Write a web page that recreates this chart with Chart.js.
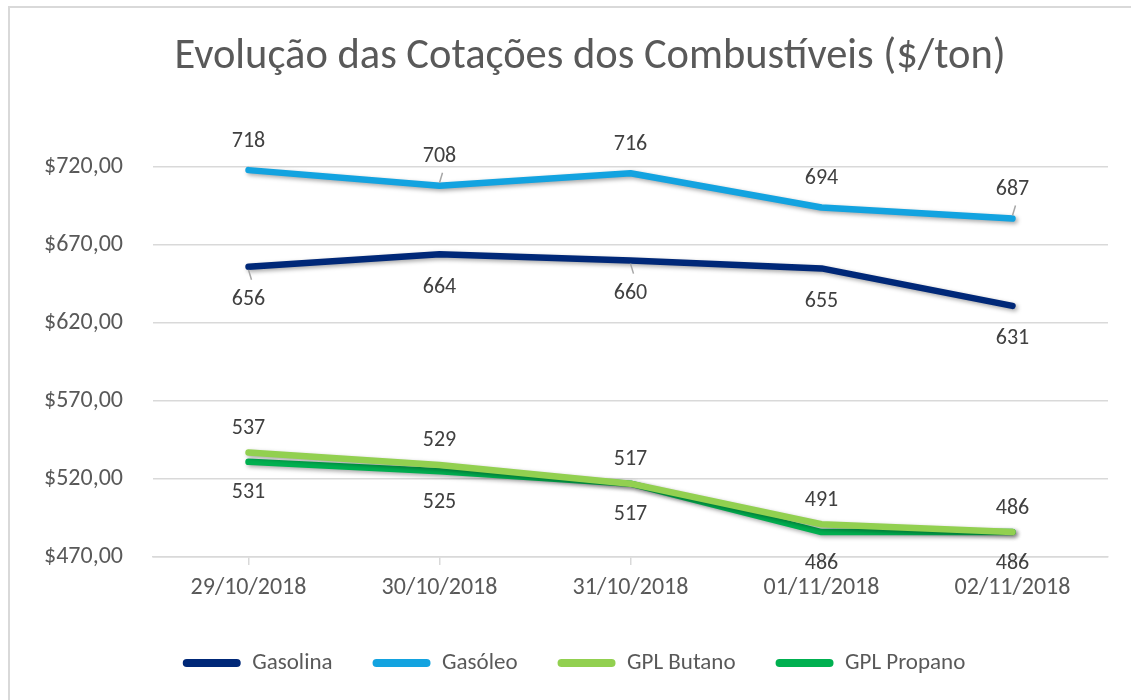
<!DOCTYPE html>
<html>
<head>
<meta charset="utf-8">
<script src="https://cdn.jsdelivr.net/npm/chart.js@4.4.1/dist/chart.umd.min.js"></script>
<style>
  html, body { margin: 0; padding: 0; background: #fff; }
  body { width: 1131px; height: 700px; overflow: hidden; position: relative; }
  .frame {
    position: absolute; left: 8px; top: 6px; width: 1130px; height: 700px;
    border-left: 2px solid #d9d9d9; border-top: 2px solid #d9d9d9; background: #fff;
  }
  .wrap { position: absolute; left: 10px; top: 8px; width: 1121px; height: 692px; }
</style>
</head>
<body>
<div class="frame"></div>
<div class="wrap"><canvas id="chart"></canvas></div>
<script>
const dates = ['29/10/2018', '30/10/2018', '31/10/2018', '01/11/2018', '02/11/2018'];
const gasolina = [656, 664, 660, 655, 631];
const gasoleo = [718, 708, 716, 694, 687];
const gplButano = [537, 529, 517, 491, 486];
const gplPropano = [531, 525, 517, 486, 486];

const FONT = "Carlito, Lato, 'Open Sans', sans-serif";
const TEXT = '#595959';

// value labels above / below each line, like the Excel data labels
const valueLabels = {
    id: 'valueLabels',
    afterDatasetsDraw(chart, args, opts) {
        const ctx = chart.ctx;
        ctx.save();
        // short gray leader lines where Excel moved the label a bit
        ctx.strokeStyle = '#a6a6a6';
        ctx.lineWidth = 1.5;
        opts.leaders.forEach(([di, pi]) => {
            const pt = chart.getDatasetMeta(di).data[pi];
            const dir = Math.sign(opts.offsets[di]);
            ctx.beginPath();
            ctx.moveTo(pt.x, pt.y + dir * 3);
            ctx.lineTo(pt.x + 3, pt.y + dir * 13);
            ctx.stroke();
        });
        ctx.font = '22px ' + FONT;
        ctx.fillStyle = '#404040';
        ctx.textAlign = 'center';
        ctx.textBaseline = 'middle';
        chart.data.datasets.forEach((ds, i) => {
            const meta = chart.getDatasetMeta(i);
            const off = opts.offsets[i];
            meta.data.forEach((pt, j) => {
                ctx.fillText(ds.data[j], pt.x, pt.y + off);
            });
        });
        ctx.restore();
    }
};

const lineShadow = {
    id: 'lineShadow',
    beforeDatasetDraw(chart) {
        const ctx = chart.ctx;
        ctx.save();
        ctx.shadowColor = 'rgba(0,0,0,0.35)';
        ctx.shadowBlur = 4;
        ctx.shadowOffsetX = 2;
        ctx.shadowOffsetY = 2;
    },
    afterDatasetDraw(chart) {
        chart.ctx.restore();
    }
};

// title and legend are not centred on the same axis in the original
const nudgeBoxes = {
    id: 'nudgeBoxes',
    afterLayout(chart) {
        if (chart.titleBlock) {
            chart.titleBlock.left += 31;
            chart.titleBlock.right += 31;
        }
        if (chart.legend) {
            chart.legend.left += 15;
            chart.legend.right += 15;
        }
    }
};

function series(label, data, color) {
    return {
        label: label,
        data: data,
        borderColor: color,
        backgroundColor: color,
        borderWidth: 6.5,
        borderCapStyle: 'round',
        borderJoinStyle: 'round',
        pointRadius: 0,
        tension: 0,
        fill: false
    };
}

new Chart(document.getElementById('chart'), {
    type: 'line',
    data: {
        labels: dates,
        datasets: [
            series('Gasolina', gasolina, '#002878'),
            series('Gasóleo', gasoleo, '#13a3e0'),
            series('GPL Butano', gplButano, '#92d050'),
            series('GPL Propano', gplPropano, '#00b050')
        ]
    },
    options: {
        responsive: true,
        maintainAspectRatio: false,
        animation: false,
        layout: { padding: { left: 0, right: 23, top: 0, bottom: 15.5 } },
        clip: false,
        plugins: {
            title: {
                display: true,
                text: 'Evolução das Cotações dos Combustíveis ($/ton)',
                color: TEXT,
                font: { family: FONT, size: 42.5, weight: 'normal' },
                padding: { top: 24, bottom: 84 }
            },
            legend: {
                position: 'bottom',
                labels: {
                    color: TEXT,
                    font: { family: FONT, size: 23 },
                    boxWidth: 58,
                    boxHeight: 8,
                    padding: 40,
                    useBorderRadius: true,
                    borderRadius: 4,
                    generateLabels(chart) {
                        return Chart.defaults.plugins.legend.labels.generateLabels(chart).map(it => {
                            it.lineWidth = 0;
                            it.fillStyle = chart.data.datasets[it.datasetIndex].borderColor;
                            return it;
                        });
                    }
                }
            },
            tooltip: { enabled: false },
            valueLabels: {
                offsets: [33, -29, -24, 31],
                leaders: [[0, 0], [1, 1], [0, 2], [1, 4]]
            }
        },
        scales: {
            x: {
                offset: true,
                grid: { drawOnChartArea: false, tickLength: 8, color: '#d9d9d9', lineWidth: 1.5 },
                border: { color: '#d9d9d9', width: 1.5 },
                ticks: { color: TEXT, font: { family: FONT, size: 24 }, padding: 9, maxRotation: 0 },
                afterFit(scale) { scale.height = 54.5; }
            },
            y: {
                min: 470,
                max: 720,
                ticks: {
                    stepSize: 50,
                    color: TEXT,
                    padding: 30,
                    font: { family: FONT, size: 24 },
                    callback: v => '$' + v.toFixed(2).replace('.', ',')
                },
                grid: { color: '#d9d9d9', lineWidth: 1.5, drawTicks: false },
                border: { display: false },
                afterFit(scale) { scale.width = 143; }
            }
        }
    },
    plugins: [lineShadow, valueLabels, nudgeBoxes]
});
</script>
</body>
</html>
